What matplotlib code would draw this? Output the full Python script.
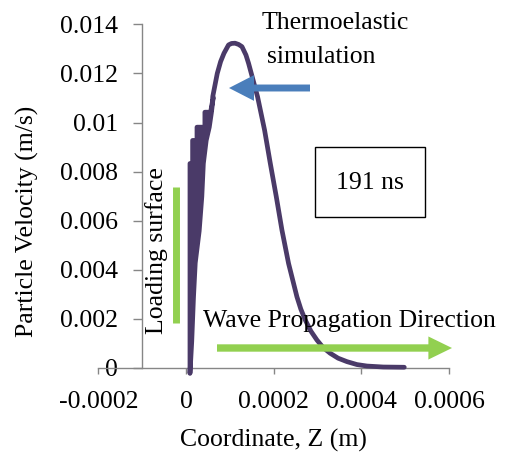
import matplotlib
matplotlib.use("Agg")
import matplotlib.pyplot as plt
from matplotlib.patches import FancyArrowPatch, Rectangle
from matplotlib.lines import Line2D

# ---- data ----
# noisy rising edge near the loading surface: envelope of the oscillating values
band_velocity = [-0.00020, 0.00110, 0.00290, 0.00430, 0.00560, 0.00700,
                 0.00835, 0.00835, 0.00929, 0.00929, 0.00983, 0.00983,
                 0.01044, 0.01044, 0.01105]
band_z_low = [0.0000080, 0.0000080, 0.0000080, 0.0000080, 0.0000080, 0.0000080,
              0.0000080, 0.0000140, 0.0000140, 0.0000240, 0.0000240, 0.0000420,
              0.0000420, 0.0000550, 0.0000610]
band_z_high = [0.0000080, 0.0000120, 0.0000160, 0.0000200, 0.0000290, 0.0000350,
               0.0000385, 0.0000385, 0.0000450, 0.0000450, 0.0000520, 0.0000520,
               0.0000570, 0.0000570, 0.0000610]

# smooth part of the pulse
z_coord = [0.0000610, 0.0000714, 0.0000790, 0.0000867, 0.0000971, 0.0001040,
           0.0001120, 0.0001200, 0.0001277, 0.0001368, 0.0001428, 0.0001520,
           0.0001633, 0.0001793, 0.0001923, 0.0002060, 0.0002189, 0.0002340,
           0.0002531, 0.0002620, 0.0002720, 0.0002850, 0.0002987, 0.0003130,
           0.0003290, 0.0003470, 0.0003671, 0.0003900, 0.0004128, 0.0004500,
           0.0004980]
velocity = [0.01105, 0.01200, 0.01248, 0.01282, 0.01316, 0.01322,
            0.01323, 0.01318, 0.01309, 0.01275, 0.01241, 0.01180,
            0.01105, 0.00969, 0.00834, 0.00698, 0.00562, 0.00426,
            0.00290, 0.00240, 0.00196, 0.00150, 0.00114, 0.00083,
            0.00060, 0.00040, 0.00026, 0.00014, 0.00008, 0.00004,
            0.00003]

x_ticks = [-0.0002, 0.0, 0.0002, 0.0004, 0.0006]
x_tick_labels = ["-0.0002", "0", "0.0002", "0.0004", "0.0006"]
y_ticks = [0.0, 0.002, 0.004, 0.006, 0.008, 0.010, 0.012, 0.014]
y_tick_labels = ["0", "0.002", "0.004", "0.006", "0.008", "0.01", "0.012", "0.014"]

W, H = 509, 453
FONT = "Liberation Serif"
FS = 18.5
AXC = "#868686"
CURVE = "#4a3a68"

plt.rcParams["font.family"] = [FONT, "DejaVu Serif"]

fig = plt.figure(figsize=(W / 100, H / 100), dpi=100)

def fx(px):
    return px / W

def fy(py):
    return 1 - py / H

ax = fig.add_axes([fx(98.3), fy(368), (449 - 98.3) / W, (368 - 24.3) / H])
ax.set_xlim(-0.0002, 0.0006)
ax.set_ylim(0, 0.014)
ax.patch.set_alpha(0)

ax.fill_betweenx(band_velocity, band_z_low, band_z_high, facecolor=CURVE,
                 edgecolor=CURVE, lw=3.4, joinstyle="round", clip_on=False,
                 zorder=3)
ax.plot(z_coord, velocity, color=CURVE, lw=3.4, clip_on=False,
        solid_joinstyle="round", solid_capstyle="round", zorder=3)

for s in ["top", "right"]:
    ax.spines[s].set_visible(False)
ax.spines["left"].set_position(("data", -0.0001))
for s in ["left", "bottom"]:
    ax.spines[s].set_color(AXC)
    ax.spines[s].set_linewidth(1.0)

ax.set_xticks(x_ticks)
ax.set_xticklabels(x_tick_labels)
ax.set_yticks(y_ticks)
ax.set_yticklabels(y_tick_labels)
ax.tick_params(axis="x", direction="out", length=4.5, width=1.0, color=AXC,
               labelsize=FS, pad=12)
ax.tick_params(axis="y", direction="out", length=6.5, width=1.0, color=AXC,
               labelsize=FS, pad=11)

# axis titles
fig.text(fx(273), fy(447), "Coordinate, Z (m)", ha="center", va="baseline",
         fontsize=FS)
fig.text(fx(27), fy(221), "Particle Velocity (m/s)", ha="center", va="center",
         rotation=90, fontsize=FS)

# annotations
fig.text(fx(262), fy(29), "Thermoelastic", ha="left", va="baseline", fontsize=FS)
fig.text(fx(267), fy(63), "simulation", ha="left", va="baseline", fontsize=FS)

blue = FancyArrowPatch((fx(310), fy(88)), (fx(229), fy(88)),
                       transform=fig.transFigure,
                       arrowstyle="simple,head_length=18,head_width=18.5,tail_width=5",
                       color="#4a7ebb", lw=0, shrinkA=0, shrinkB=0, zorder=5)
fig.patches.append(blue)

green = FancyArrowPatch((fx(217), fy(348)), (fx(452), fy(348)),
                        transform=fig.transFigure,
                        arrowstyle="simple,head_length=17,head_width=16.6,tail_width=5.3",
                        color="#92d050", lw=0, shrinkA=0, shrinkB=0, zorder=5)
fig.patches.append(green)

fig.lines.append(Line2D([fx(175.5), fx(175.5)], [fy(187), fy(323)],
                        transform=fig.transFigure, color="#92d050", lw=5,
                        solid_capstyle="butt", zorder=5))

fig.text(fx(157), fy(251), "Loading surface", ha="center", va="center",
         rotation=90, fontsize=FS)
fig.text(fx(203), fy(327), "Wave Propagation Direction", ha="left",
         va="baseline", fontsize=FS, zorder=6)

box = Rectangle((fx(315), fy(217)), (425 - 315) / W, (217 - 147) / H,
                transform=fig.transFigure, fill=False, edgecolor="black",
                lw=1.0, zorder=5)
fig.patches.append(box)
fig.text(fx(370), fy(183), "191 ns", ha="center", va="center", fontsize=FS)

fig.savefig("out.png", dpi=100)
